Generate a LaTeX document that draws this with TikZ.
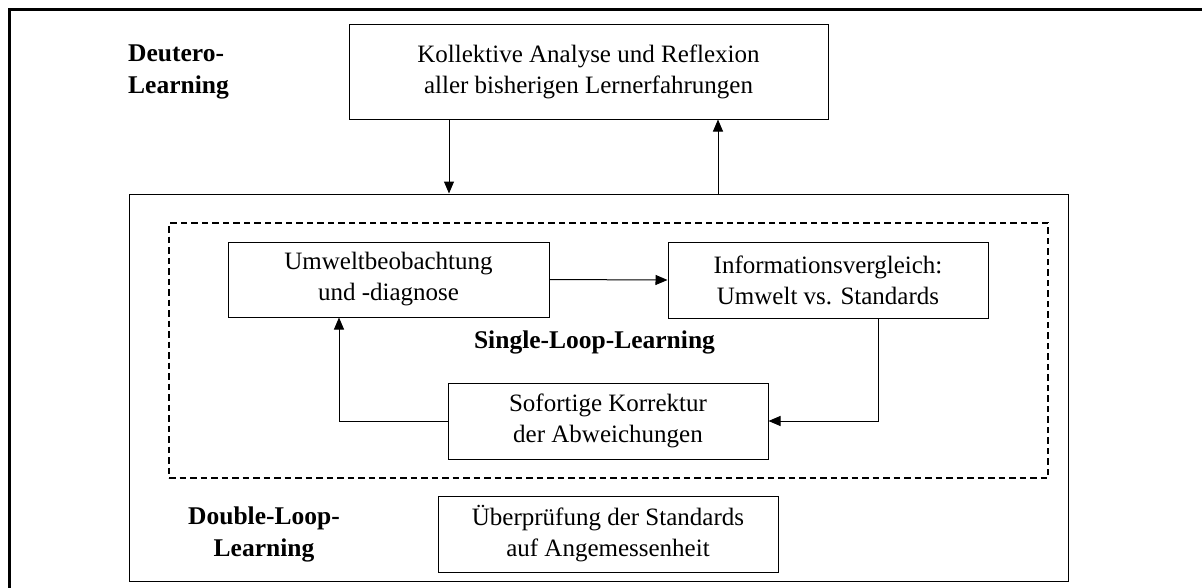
\documentclass[tikz,border=0pt]{standalone}
\usepackage{fontspec}
\setmainfont{Liberation Serif}
\usetikzlibrary{arrows.meta}
\tikzset{
  box/.style={draw, line width=1pt, inner sep=0pt, align=center, font=\fontsize{25}{31}\selectfont},
  lbl/.style={inner sep=0pt, align=center, font=\fontsize{25.5}{32}\selectfont\bfseries},
  arr/.style={line width=1pt, -{Triangle[length=12pt,width=10pt]}},
  conn/.style={line width=1pt}
}
\begin{document}
\begin{tikzpicture}[x=1pt,y=-1pt]
\useasboundingbox (0,0) rectangle (1202,587);
\fill[white] (0,0) rectangle (1202,587);
% frame
\draw[line width=3pt, line join=miter] (9,600) -- (9,9) -- (1210,9);
% outer double-loop box
\node[draw, line width=1pt, inner sep=0pt, minimum width=939pt, minimum height=387pt] (dl) at (598.5,387.5) {};
% dashed single-loop box
\node[draw, line width=1.5pt, dash pattern=on 6.5pt off 4pt, inner sep=0pt, minimum width=879pt, minimum height=255pt] (sl) at (608.5,350.5) {};
% deutero box
\node[box, minimum width=479pt, minimum height=95pt] (deut) at (588.5,71.5) {Kollektive Analyse und Reflexion\\aller bisherigen Lernerfahrungen};
\node[box, minimum width=321pt, minimum height=75pt] (umw) at (388.5,279.5) {Umweltbeobachtung\\und -diagnose};
\node[box, minimum width=320pt, minimum height=76pt] (info) at (828,280) {Informationsvergleich:\\Umwelt vs. Standards};
\node[box, minimum width=320pt, minimum height=76pt] (sof) at (608,421) {Sofortige Korrektur\\der Abweichungen};
\node[box, minimum width=340pt, minimum height=76pt] (ueb) at (608,534) {Überprüfung der Standards\\auf Angemessenheit};
% labels
\node[lbl, align=left, anchor=west] (deutlbl) at (128,72) {Deutero-\\Learning};
\node[lbl] (sllbl) at (594.5,342) {Single-Loop-Learning};
\node[lbl] (dllbl) at (264,534) {Double-Loop-\\Learning};
% connectors
\coordinate (d1) at ([xshift=-139.5pt]deut.south);
\coordinate (u1) at ([xshift=129.5pt]deut.south);
\draw[arr] (d1) -- (d1 |- dl.north);
\draw[arr] (u1 |- dl.north) -- (u1);
\draw[arr] (umw.east) -- (info.west);
\draw[arr] ([xshift=50pt]info.south) |- (sof.east);
\draw[arr] (sof.west) -| ([xshift=-49.5pt]umw.south);
\end{tikzpicture}
\end{document}
